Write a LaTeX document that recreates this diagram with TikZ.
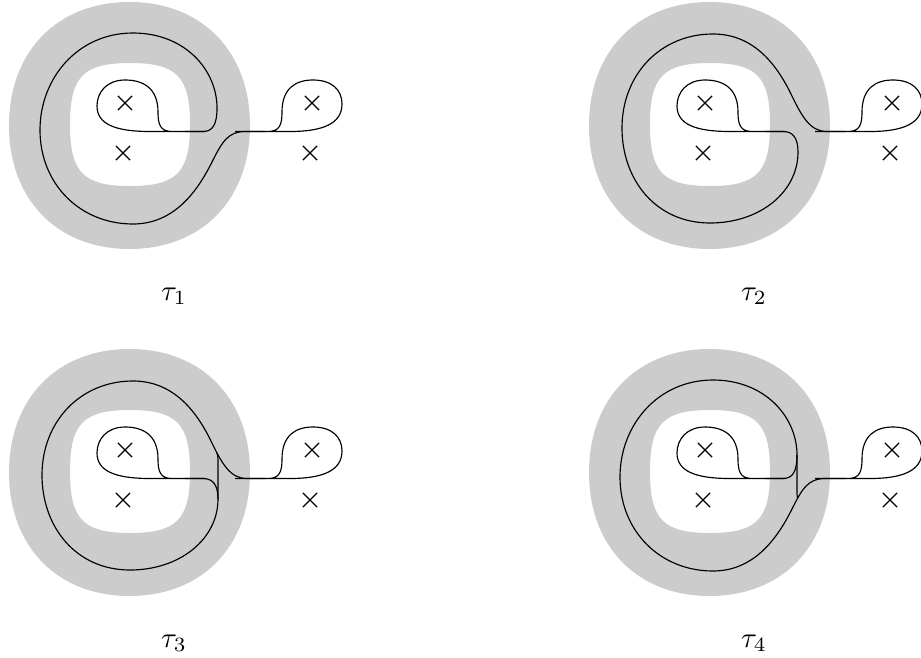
\documentclass[tikz,border=0pt]{standalone}
\usetikzlibrary{shapes.misc}
\tikzset{
  annulus/.style={fill=black!20, even odd rule},
  strand/.style={draw=black, line width=0.4pt},
  puncture/.style={cross out, draw=black, line width=0.4pt, minimum size=4.5pt, inner sep=0pt},
  caption/.style={anchor=base, inner sep=0pt}
}
% outer: centre (129.5,125.5), a=120.5, b=123.5, handle k=0.6
% inner: centre (130,124.5), a=60, b=61.5, handle k=0.78
\newcommand\panelbase[1]{%
  \fill[annulus]
     (250,125.5) .. controls (250,199.6) and (201.8,249) .. (129.5,249)
     .. controls (57.2,249) and (9,199.6) .. (9,125.5)
     .. controls (9,51.4) and (57.2,2) .. (129.5,2)
     .. controls (201.8,2) and (250,51.4) .. (250,125.5) -- cycle
     (190,124.5) .. controls (190,172.5) and (176.8,186) .. (130,186)
     .. controls (83.2,186) and (70,172.5) .. (70,124.5)
     .. controls (70,76.5) and (83.2,63) .. (130,63)
     .. controls (176.8,63) and (190,76.5) .. (190,124.5) -- cycle;
  \node[puncture] (a) at (125,103) {};
  \node[puncture] (b) at (123,153) {};
  \node[puncture] (c) at (312,103) {};
  \node[puncture] (d) at (310,153) {};
  % left loop
  \draw[strand] (190,131.5) -- (172,131.5) .. controls (160,131.5) and (158,124) .. (158,112)
     .. controls (158,88) and (143,80) .. (125,80)
     .. controls (107,80) and (97,92) .. (97,106)
     .. controls (97,124) and (115,131.5) .. (150,131.5) -- (205,131.5);
  % right loop
  \draw[strand] (250,131.5) -- (268,131.5) .. controls (280,131.5) and (282,124) .. (282,112)
     .. controls (282,88) and (296,80) .. (313,80)
     .. controls (332,80) and (342,90) .. (342,104)
     .. controls (342,124) and (322,131.5) .. (290,131.5) -- (235,131.5);
  \node[caption] (lab) at (174,300) {$\tau_{#1}$};
}
\newcommand\arcone{%
  \draw[strand] (185,131.5) -- (203,131.5) .. controls (213,131.5) and (217,124) .. (217,108)
     .. controls (217,70) and (185,33) .. (133,33)
     .. controls (78,33) and (40,78) .. (40,130)
     .. controls (40,184) and (80,224) .. (133,224)
     .. controls (175,224) and (198,190) .. (212,162)
     .. controls (222,142) and (228,131.5) .. (245,131.5) -- (265,131.5);
}
\newcommand\arctwo{%
  \draw[strand] (185,131.5) -- (203,131.5) .. controls (213,131.5) and (218,138) .. (218,152)
     .. controls (218,192) and (180,223) .. (130,223)
     .. controls (76,223) and (42,180) .. (42,128)
     .. controls (42,75) and (80,34) .. (133,34)
     .. controls (172,34) and (195,62) .. (210,92)
     .. controls (222,117) and (230,131.5) .. (247,131.5) -- (265,131.5);
}
\begin{document}
\begin{tikzpicture}[x=0.345pt,y=-0.345pt]
\useasboundingbox (0,0) rectangle (921,657);
\begin{scope}[name prefix=p1-]
  \panelbase{1}
  \arcone
\end{scope}
\begin{scope}[shift={(580,0)}, name prefix=p2-]
  \panelbase{2}
  \arctwo
\end{scope}
\begin{scope}[shift={(0,347)}, name prefix=p3-]
  \panelbase{3}
  \arctwo
  \draw[strand] (218,152) -- (218,112) .. controls (218,109) and (217.5,107.5) .. (216.8,105.7);
\end{scope}
\begin{scope}[shift={(580,347)}, name prefix=p4-]
  \panelbase{4}
  \arcone
  \draw[strand] (217,108) -- (217,146) .. controls (217,148) and (217.3,150) .. (217.6,151.1);
\end{scope}
\end{tikzpicture}
\end{document}
